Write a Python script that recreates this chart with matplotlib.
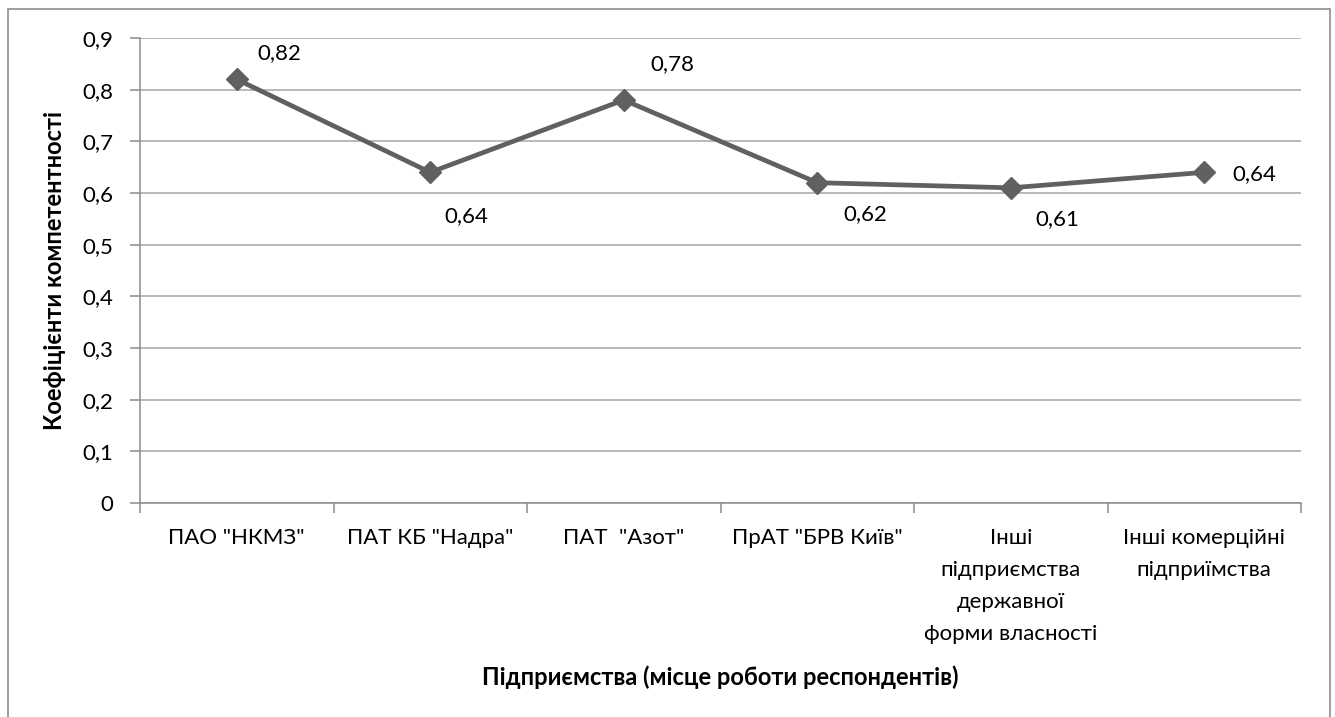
import matplotlib
matplotlib.use("Agg")
import matplotlib.pyplot as plt
from matplotlib.patches import Rectangle

categories = ['ПАО "НКМЗ"', 'ПАТ КБ "Надра"', 'ПАТ  "Азот"', 'ПрАТ "БРВ Київ"',
              'Інші\nпідприємства\nдержавної\nформи власності',
              'Інші комерційні\nпідприїмства']
values = [0.82, 0.64, 0.78, 0.62, 0.61, 0.64]
value_labels = ['0,82', '0,64', '0,78', '0,62', '0,61', '0,64']
y_ticks = [0, 0.1, 0.2, 0.3, 0.4, 0.5, 0.6, 0.7, 0.8, 0.9]
y_tick_labels = ['0', '0,1', '0,2', '0,3', '0,4', '0,5', '0,6', '0,7', '0,8', '0,9']
# label offsets in pixels from each point
label_offsets = [(43, 26), (36, -44), (49, 36), (48, -31), (47, -31), (50, -2)]

plt.rcParams['font.family'] = ['Lato', 'DejaVu Sans']

W, H = 1335, 717
fig = plt.figure(figsize=(W / 100, H / 100), dpi=100)
fig.patch.set_facecolor('white')

# outer chart border
fig.patches.append(Rectangle((8 / W, -0.05), (1330 - 8) / W, (H - 9) / H + 0.05,
                             transform=fig.transFigure, fill=False,
                             edgecolor='#8c8c8c', linewidth=1.2))

left, right, top, bottom = 140, 1301, 38, 503
ax = fig.add_axes([left / W, 1 - bottom / H, (right - left) / W, (bottom - top) / H])

x = list(range(len(categories)))
ax.set_xlim(-0.5, len(categories) - 0.5)
ax.set_ylim(0, 0.9)

ax.plot(x, values, color='#606060', linewidth=3.4, marker='D', markersize=11,
        markeredgecolor='#606060', markerfacecolor='#606060', zorder=3)

FS = 16
for xi, v, lab, (dx, dy) in zip(x, values, value_labels, label_offsets):
    ax.annotate(lab, (xi, v), xytext=(dx, dy), textcoords='offset pixels',
                ha='center', va='center', fontsize=FS, color='black')

ax.set_yticks(y_ticks)
ax.set_yticklabels(y_tick_labels, fontsize=FS)
ax.yaxis.grid(True, color='#a6a6a6', linewidth=1.1)
ax.set_axisbelow(True)

ax.set_xticks([i - 0.5 for i in range(len(categories) + 1)])
ax.set_xticklabels([])
ax.set_xticks(x, minor=True)
ax.set_xticklabels(categories, minor=True, fontsize=FS, linespacing=1.75, va='top')
ax.tick_params(axis='x', which='minor', length=0, pad=18)
ax.tick_params(axis='x', which='major', length=7, color='#8c8c8c', width=1.1)
ax.tick_params(axis='y', length=7, color='#8c8c8c', width=1.1, pad=12)

for s in ['top', 'right']:
    ax.spines[s].set_visible(False)
for s in ['left', 'bottom']:
    ax.spines[s].set_color('#8c8c8c')
    ax.spines[s].set_linewidth(1.1)

fig.text(720 / W, 1 - 677 / H, 'Підприємства (місце роботи респондентів)',
         ha='center', va='center', fontsize=17, fontweight='bold')
fig.text(55 / W, 1 - 270 / H, 'Коефіцієнти компетентності', rotation=90,
         ha='center', va='center', fontsize=17, fontweight='bold')

fig.savefig('out.png', dpi=100)
